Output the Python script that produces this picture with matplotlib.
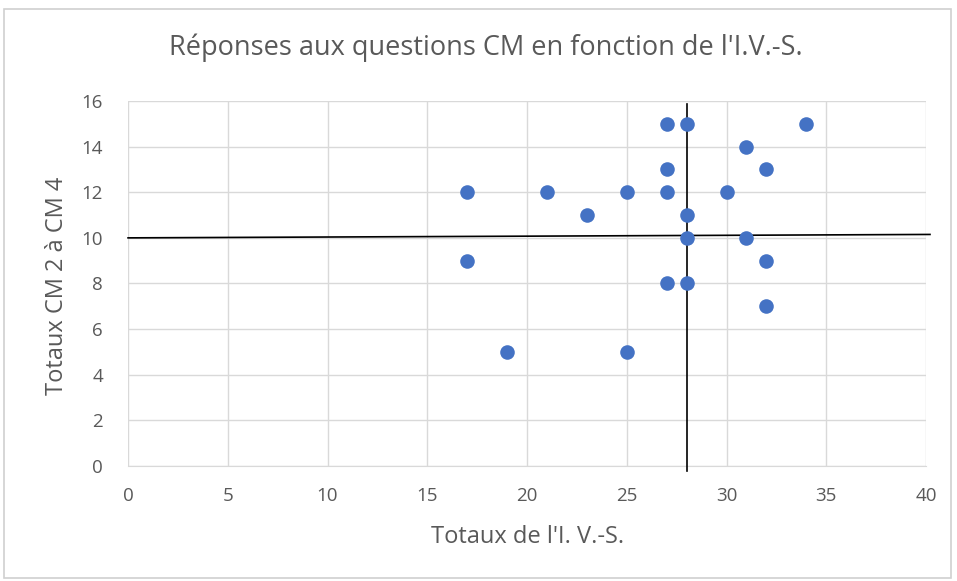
import matplotlib.pyplot as plt
from matplotlib.patches import Rectangle

plt.rcParams['font.family'] = ['Open Sans', 'DejaVu Sans']

ivs_totals = [17, 17, 19, 21, 23, 25, 25, 27, 27, 27, 27, 28, 28, 28, 28, 30, 31, 31, 32, 32, 32, 34]
cm_totals = [12, 9, 5, 12, 11, 12, 5, 15, 13, 12, 8, 15, 11, 10, 8, 12, 14, 10, 13, 9, 7, 15]
x_ticks = [0, 5, 10, 15, 20, 25, 30, 35, 40]
y_ticks = [0, 2, 4, 6, 8, 10, 12, 14, 16]

fig = plt.figure(figsize=(9.57, 5.81), dpi=100)
fig.patches.append(Rectangle((0.004, 0.005), 0.99, 0.98, transform=fig.transFigure,
                             fill=False, edgecolor='#d0d0d0', linewidth=1.2))
ax = fig.add_axes([0.1338, 0.1979, 0.8338, 0.6283])

ax.scatter(ivs_totals, cm_totals, s=110, color='#4472C4', zorder=4, linewidths=0)

ax.set_xlim(0, 40)
ax.set_ylim(0, 16)
ax.set_xticks(x_ticks)
ax.set_yticks(y_ticks)
ax.grid(True, color='#d9d9d9', linewidth=1)
ax.set_axisbelow(True)
for side in ['top', 'right', 'left']:
    ax.spines[side].set_visible(False)
ax.spines['bottom'].set_color('#d9d9d9')
ax.tick_params(length=0, labelsize=13.5, labelcolor='#595959')
ax.tick_params(axis='x', pad=15)
ax.tick_params(axis='y', pad=18)

# reference lines (mean cut)
ax.plot([0, 40.2], [10, 10.15], color='black', linewidth=1.2, zorder=3, clip_on=False)
ax.plot([28, 28], [-0.2, 15.85], color='black', linewidth=1.2, zorder=3, clip_on=False)

fig.text(0.508, 0.917, "Réponses aux questions CM en fonction de l'I.V.-S.", fontsize=19.5,
         color='#595959', ha='center', va='center')
fig.text(0.551, 0.076, "Totaux de l'I. V.-S.", fontsize=17, color='#595959',
         ha='center', va='center')
fig.text(0.06, 0.508, "Totaux CM 2 à CM 4", fontsize=17, color='#595959',
         ha='center', va='center', rotation=90)

fig.savefig('out.png', dpi=100)
